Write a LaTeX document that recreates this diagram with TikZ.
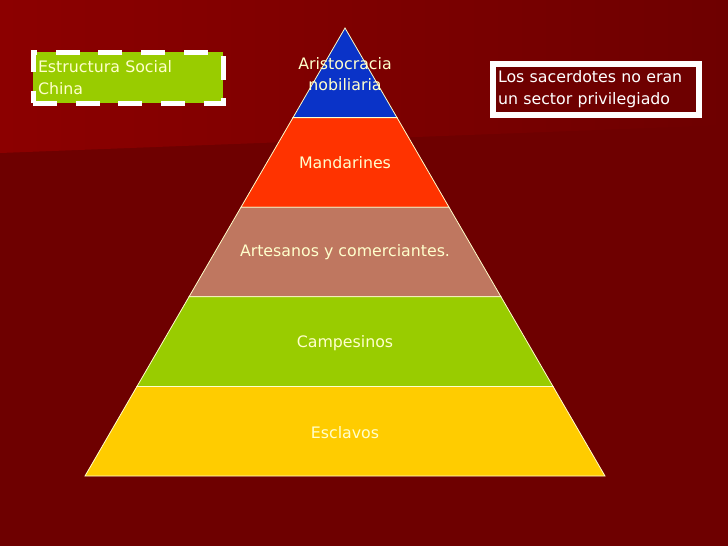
\documentclass[tikz,border=0pt]{standalone}
\usepackage{fontspec}
\setmainfont{DejaVu Sans}
\definecolor{bgdark}{HTML}{6E0000}
\definecolor{bglight}{HTML}{8C0000}
\definecolor{edge}{HTML}{FFFFCC}
\definecolor{txt}{HTML}{FFFFCC}
\definecolor{cblue}{HTML}{0A33C8}
\definecolor{cred}{HTML}{FF3300}
\definecolor{cbrown}{HTML}{BF7760}
\definecolor{cgreen}{HTML}{99CC00}
\definecolor{cyellow}{HTML}{FFCC00}
\begin{document}
\begin{tikzpicture}[x=1pt,y=-1pt,
  layer/.style={draw=edge, line width=0.8pt},
  lbl/.style={text=txt, font=\fontsize{15.8}{21}\selectfont, align=center, inner sep=0pt},
  titlebox/.style={draw=white, line width=5pt, dash pattern=on 24pt off 18.7pt, fill=cgreen,
    text=txt, font=\fontsize{15.8}{22}\selectfont, align=left, text width=180pt,
    inner xsep=5pt, inner ysep=0pt, minimum width=190pt, minimum height=51pt, anchor=north west},
  notebox/.style={draw=white, line width=6pt, fill=bgdark,
    text=white, font=\fontsize{15.8}{22}\selectfont, align=left, text width=196pt,
    inner xsep=5pt, inner ysep=0pt, minimum width=206pt, minimum height=51pt, anchor=north west}]
\useasboundingbox (0,0) rectangle (728,546);
\fill[bgdark] (0,0) rectangle (728,546);
\shade[left color=bglight, right color=bgdark] (0,0) -- (728,0) -- (728,125) -- (0,153) -- cycle;
% pyramid corners
\coordinate (P0) at (345,28);
\coordinate (L1) at (293,117.6); \coordinate (R1) at (397,117.6);
\coordinate (L2) at (241,207.2); \coordinate (R2) at (449,207.2);
\coordinate (L3) at (189,296.8); \coordinate (R3) at (501,296.8);
\coordinate (L4) at (137,386.4); \coordinate (R4) at (553,386.4);
\coordinate (L5) at (85,476);    \coordinate (R5) at (605,476);
\filldraw[layer, fill=cblue]   (P0) -- (R1) -- (L1) -- cycle;
\filldraw[layer, fill=cred]    (L1) -- (R1) -- (R2) -- (L2) -- cycle;
\filldraw[layer, fill=cbrown]  (L2) -- (R2) -- (R3) -- (L3) -- cycle;
\filldraw[layer, fill=cgreen]  (L3) -- (R3) -- (R4) -- (L4) -- cycle;
\filldraw[layer, fill=cyellow] (L4) -- (R4) -- (R5) -- (L5) -- cycle;
% labels
\node[lbl] (t1) at (345,74.5) {Aristocracia\\nobiliaria};
\node[lbl] (t2) at (345,163) {Mandarines};
\node[lbl] (t3) at (345,252.5) {Artesanos y comerciantes.};
\node[lbl] (t4) at (345,343) {Campesinos};
\node[lbl] (t5) at (345,433) {Esclavos};
% boxes
\node[titlebox] (title) at (30.5,49.5) {Estructura Social\\China};
\node[notebox] (note) at (490,61) {Los sacerdotes no eran\\un sector privilegiado};
\end{tikzpicture}
\end{document}
